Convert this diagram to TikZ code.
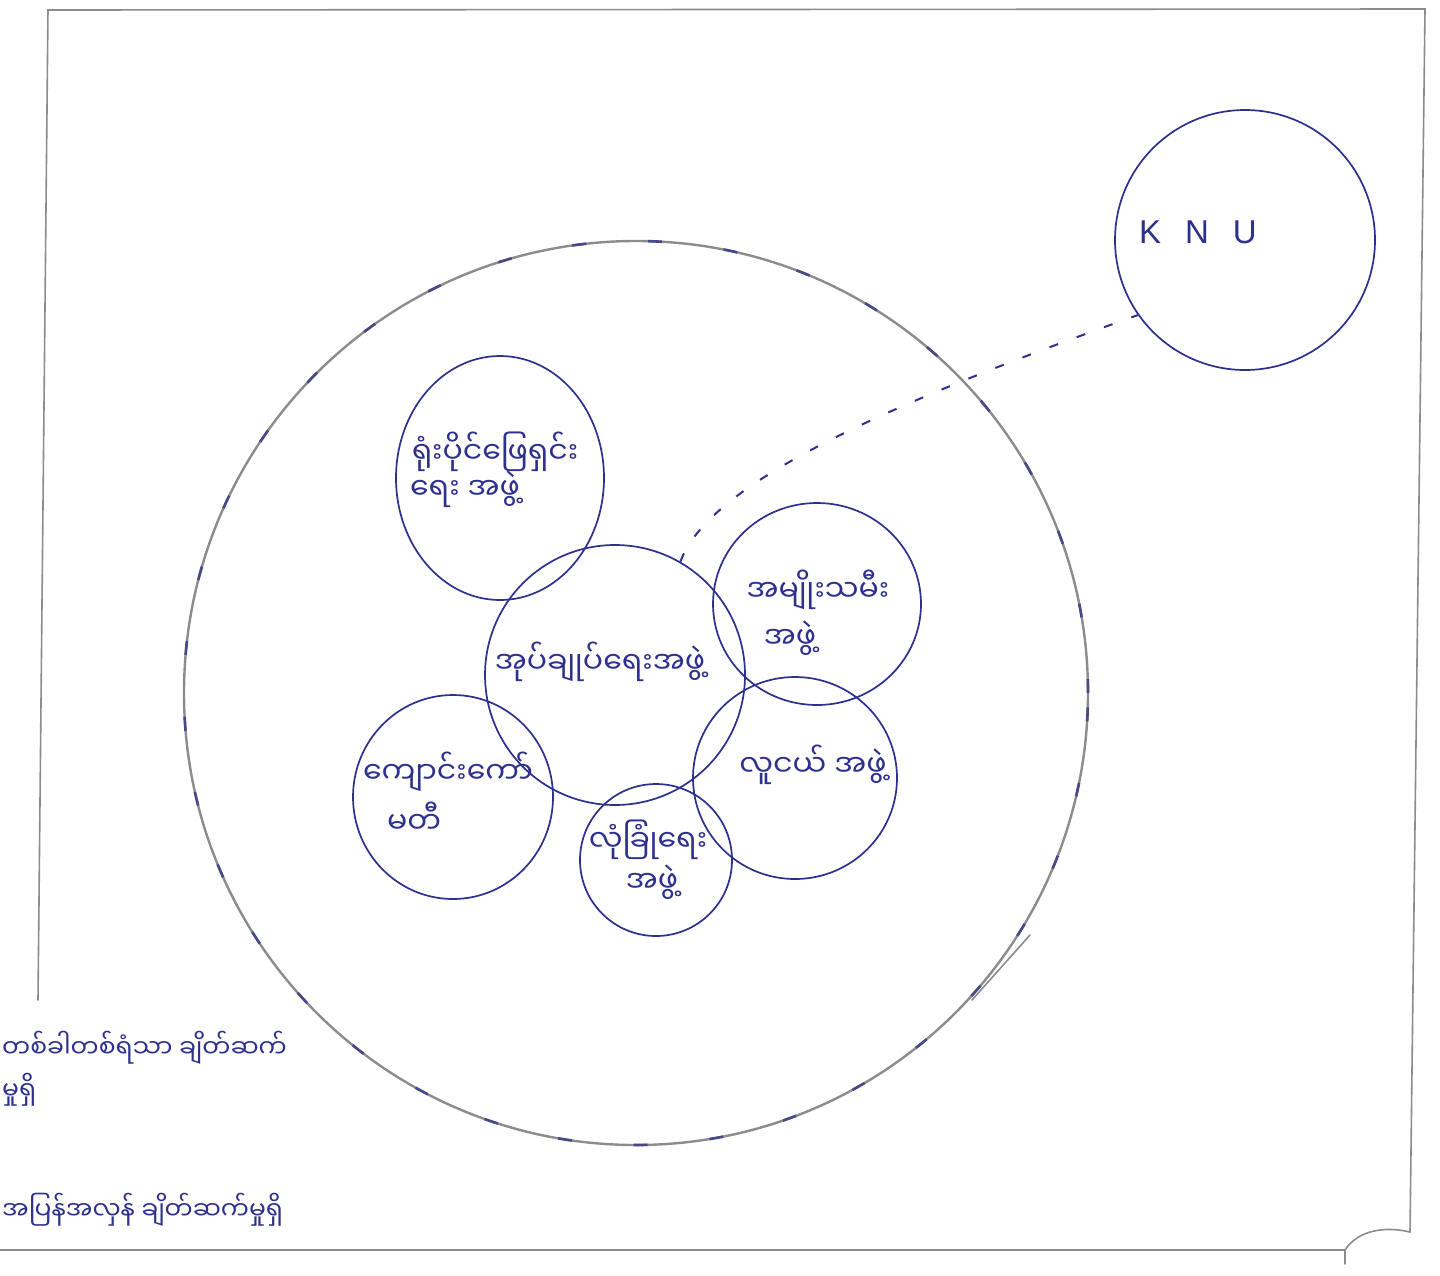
\documentclass[tikz,border=0pt]{standalone}
\usepackage{fontspec}
\newfontfamily\mm[Script=Myanmar]{Noto Sans Myanmar UI}
\setsansfont{Liberation Sans}
\usetikzlibrary{shapes.geometric}
\definecolor{ink}{RGB}{45,48,140}
\definecolor{pencil}{RGB}{140,140,140}
\begin{document}
\begin{tikzpicture}[x=1pt,y=-1pt,
  frame/.style={draw=pencil, line width=1.6pt, line cap=round},
  bubble/.style={ellipse, draw=ink, line width=1.7pt, inner sep=0pt},
  mmtext/.style={text=ink, font=\mm\fontsize{30}{36}\selectfont, inner sep=0pt},
  legendtext/.style={text=ink, font=\mm\fontsize{25}{30}\selectfont, inner sep=0pt},
  dashconn/.style={draw=ink, line width=2pt, dash pattern=on 9pt off 20pt}
]
\useasboundingbox (0,0) rectangle (1440,1275);
\clip (0,0) rectangle (1440,1275);
\fill[white] (0,0) rectangle (1440,1275);

% paper frame
\coordinate (ftl) at (48,10);
\coordinate (ftr) at (1425,9);
\coordinate (fbl) at (38,1000);
\coordinate (fbr) at (1410,1232);
\coordinate (fcorner) at (1345,1250);
\coordinate (fbot) at (0,1250);
\draw[frame] (fbl) -- (ftl) -- (ftr) -- (fbr);
\draw[frame] (fbot) -- (fcorner);
\draw[frame] (1345,1264) -- (fcorner) .. controls (1358,1230) and (1385,1226) .. (fbr);

% community circle
\node[circle, draw=pencil, line width=2.4pt, minimum size=904pt, inner sep=0pt] (community) at (636,693) {};
\draw[draw=ink!70!gray, line width=2.6pt, dash pattern=on 14pt off 62pt] (636,693) circle[radius=452pt];
\coordinate (strayA) at (972,1000);
\coordinate (strayB) at (1030,935);
\draw[draw=pencil, line width=1.6pt, line cap=round] (strayA) -- (strayB);

% KNU
\node[circle, draw=ink, line width=1.7pt, minimum size=260pt, inner sep=0pt] (knu) at (1245,240) {};
\node[text=ink, font=\sffamily\fontsize{33}{38}\selectfont, inner sep=0pt] (knutext) at (1198,232) {K\hspace{24pt}N\hspace{24pt}U};

% inner organisations
\node[bubble, minimum width=208pt, minimum height=244pt] (org1) at (500,478) {};
\node[bubble, minimum width=260pt, minimum height=260pt] (admin) at (615,675) {};
\node[bubble, minimum width=208pt, minimum height=202pt] (women) at (817,604) {};
\node[bubble, minimum width=204pt, minimum height=202pt] (youth) at (795,778) {};
\node[bubble, minimum width=200pt, minimum height=204pt] (school) at (453,797) {};
\node[bubble, minimum width=152pt, minimum height=152pt] (security) at (656,860) {};

\node[mmtext] (t1a) at (495,452) {ရုံးပိုင်ဖြေရှင်း};
\node[mmtext] (t1b) at (465,489) {ရေး အဖွဲ့};
\node[mmtext] (tadmin) at (600,662) {အုပ်ချုပ်ရေးအဖွဲ့};
\node[mmtext] (twomena) at (818,590) {အမျိုးသမီး};
\node[mmtext] (twomenb) at (790,638) {အဖွဲ့};
\node[mmtext] (tyouth) at (813,765) {လူငယ် အဖွဲ့};
\node[mmtext] (tschoola) at (448,772) {ကျောင်းကော်};
\node[mmtext] (tschoolb) at (414,818) {မတီ};
\node[mmtext] (tsecuritya) at (648,840) {လုံခြုံရေး};
\node[mmtext] (tsecurityb) at (652,882) {အဖွဲ့};

% occasional link to KNU
\draw[dashconn] (admin.60) .. controls (710,480) and (900,400) .. (knu.215);

% legend
\node[legendtext, anchor=west] (leg1) at (2,1048) {တစ်ခါတစ်ရံသာ ချိတ်ဆက်};
\node[legendtext, anchor=west] (leg1b) at (2,1090) {မှုရှိ};
\node[legendtext, anchor=west] (leg2) at (2,1210) {အပြန်အလှန် ချိတ်ဆက်မှုရှိ};
\end{tikzpicture}
\end{document}
